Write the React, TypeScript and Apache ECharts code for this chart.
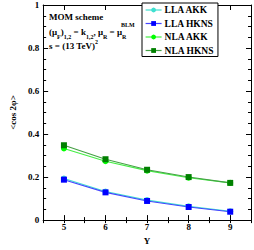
import React, { useEffect, useRef } from "react";
import * as echarts from "echarts";

const rapidity = [5, 6, 7, 8, 9];
const llaAkk = [0.193, 0.133, 0.093, 0.064, 0.041];
const llaHkns = [0.188, 0.129, 0.089, 0.061, 0.039];
const nlaAkk = [0.333, 0.274, 0.230, 0.197, 0.173];
const nlaHkns = [0.348, 0.283, 0.234, 0.200, 0.173];
const seriesNames = ["LLA AKK", "LLA HKNS", "NLA AKK", "NLA HKNS"];
const yTicks = [0, 0.2, 0.4, 0.6, 0.8, 1];

const FONT = "'Liberation Serif', 'Times New Roman', serif";

export default function App() {
  const ref = useRef<HTMLDivElement>(null);
  useEffect(() => {
    if (!ref.current) return;
    const chart = echarts.init(ref.current, undefined, { renderer: "svg" });
    const pair = (arr: number[]) => rapidity.map((x, i) => [x, arr[i]]);
    const mk = (name: string, data: number[], color: string, symbol: string, lineColor: string) => ({
      name,
      type: "line",
      data: pair(data),
      xAxisIndex: 0,
      yAxisIndex: 0,
      symbol,
      symbolSize: 6,
      itemStyle: { color },
      lineStyle: { color: lineColor, width: 1.1 },
    });
    const tickStyle = { color: "#000", width: 1 };
    const baseX = {
      type: "value",
      min: 4.5,
      max: 9.5,
      splitLine: { show: false },
      axisLine: { show: true, onZero: false, lineStyle: { color: "#000", width: 1 } },
    };
    const baseY = {
      type: "value",
      min: 0,
      max: 1,
      interval: 0.2,
      splitLine: { show: false },
      axisLine: { show: true, onZero: false, lineStyle: { color: "#000", width: 1 } },
      axisTick: { show: true, inside: true, length: 5, lineStyle: tickStyle },
      minorTick: { show: true, splitNumber: 4, length: 3, lineStyle: tickStyle },
    };
    chart.setOption({
      animation: false,
      backgroundColor: "#fff",
      grid: { left: 27, right: 2, top: 5, bottom: 20, containLabel: false },
      legend: {
        orient: "vertical",
        left: 142,
        top: 3,
        data: seriesNames,
        backgroundColor: "#fff",
        borderColor: "#000",
        borderWidth: 1,
        borderRadius: 0,
        padding: [2, 4, 1, 3],
        itemGap: 3.5,
        itemWidth: 16,
        itemHeight: 6,
        lineStyle: { width: 1.2 },
        textStyle: { fontFamily: FONT, fontWeight: "bold", fontSize: 9.5, color: "#000", lineHeight: 9, padding: [0, 0, 0, -2] },
      },
      xAxis: [
        {
          ...baseX,
          position: "bottom",
          name: "Y",
          nameLocation: "middle",
          nameGap: 11,
          nameTextStyle: { fontFamily: FONT, fontWeight: "bold", fontSize: 9, color: "#000" },
          axisTick: { show: true, inside: true, length: 5, lineStyle: tickStyle },
          axisLabel: {
            fontFamily: FONT,
            fontWeight: "bold",
            fontSize: 9,
            color: "#000",
            margin: 2,
            formatter: (v: number) => (Number.isInteger(v) ? String(v) : ""),
          },
        },
        {
          ...baseX,
          position: "bottom",
          interval: 0.5,
          axisLine: { show: false },
          axisTick: { show: true, inside: true, length: 3, lineStyle: tickStyle },
          axisLabel: { show: false },
        },
        {
          ...baseX,
          position: "top",
          axisTick: { show: true, inside: true, length: 5, lineStyle: tickStyle },
          axisLabel: { show: false },
        },
        {
          ...baseX,
          position: "top",
          interval: 0.5,
          axisLine: { show: false },
          axisTick: { show: true, inside: true, length: 3, lineStyle: tickStyle },
          axisLabel: { show: false },
        },
      ],
      yAxis: [
        {
          ...baseY,
          position: "left",
          name: "<cos 2φ>",
          nameLocation: "middle",
          nameGap: 19,
          nameTextStyle: { fontFamily: FONT, fontWeight: "bold", fontSize: 9, color: "#000" },
          axisLabel: {
            fontFamily: FONT,
            fontWeight: "bold",
            fontSize: 9,
            color: "#000",
            margin: 4,
            formatter: (v: number) => {
              const t = yTicks.find((y) => Math.abs(y - v) < 1e-9);
              return t === undefined ? "" : String(t);
            },
          },
        },
        {
          ...baseY,
          position: "right",
          axisLabel: { show: false },
        },
      ],
      graphic: [
        {
          type: "text",
          left: 49,
          top: 12,
          style: { text: "MOM scheme", font: `bold 9px ${FONT}`, fill: "#000" },
        },
        {
          type: "text",
          left: 49,
          top: 24,
          style: {
            text: "(μ{sub|F}){sub|1,2} = k{sub|1,2}, μ{sub|R} = μ{sub|R}",
            font: `bold 9px ${FONT}`,
            fill: "#000",
            rich: {
              sub: { font: `bold 6px ${FONT}`, fill: "#000", verticalAlign: "bottom", lineHeight: 6 },
            },
            lineHeight: 16,
          },
        },
        {
          type: "text",
          left: 121,
          top: 22,
          style: { text: "BLM", font: `bold 6px ${FONT}`, fill: "#000" },
        },
        {
          type: "text",
          left: 49,
          top: 39,
          style: {
            text: "s = (13 TeV){sup|2}",
            font: `bold 9px ${FONT}`,
            fill: "#000",
            rich: {
              sup: { font: `bold 6px ${FONT}`, fill: "#000", verticalAlign: "top", lineHeight: 6 },
            },
            lineHeight: 14,
          },
        },
      ],
      series: [
        mk(seriesNames[0], llaAkk, "#40e0d0", "circle", "#40e0d0"),
        mk(seriesNames[1], llaHkns, "#0000ff", "rect", "#4444ff"),
        mk(seriesNames[2], nlaAkk, "#00ff00", "circle", "#44ee44"),
        mk(seriesNames[3], nlaHkns, "#008000", "rect", "#44a044"),
      ],
    });
    return () => chart.dispose();
  }, []);
  return <div ref={ref} style={{ width: 254, height: 250, position: "absolute", left: 0, top: 0 }} />;
}
